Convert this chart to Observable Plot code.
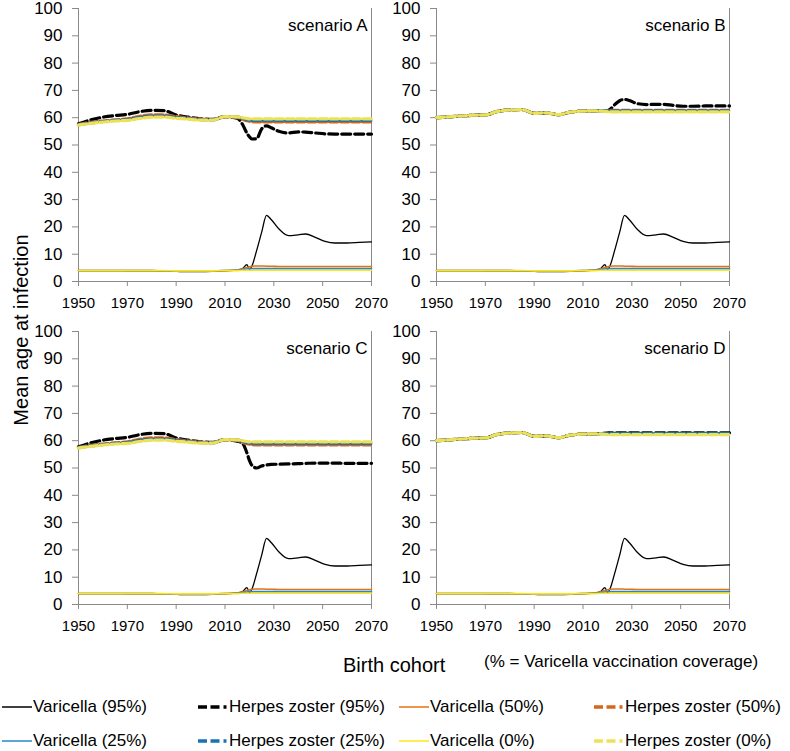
<!DOCTYPE html>
<html><head><meta charset="utf-8">
<script src="https://cdn.jsdelivr.net/npm/d3@7"></script>
<script src="https://cdn.jsdelivr.net/npm/@observablehq/plot@0.6"></script>
<style>
body{margin:0;background:#fff;}
#wrap{position:relative;width:790px;height:751px;font-family:"Liberation Sans",Arial,sans-serif;color:#000;overflow:hidden;background:#fff;}
.abs{position:absolute;white-space:nowrap;}
</style></head><body><div id="wrap"></div>
<script>
// ---------- data ----------
const years = [1950,1955,1960,1965,1970,1975,1980,1985,1990,1995,2000,2005,2010,2015,2017,2019,2020,2021,2023,2025,2027,2029,2032,2036,2040,2043,2047,2051,2055,2060,2065,2070];

const scenarioLabels = ["scenario A", "scenario B", "scenario C", "scenario D"];
const seriesNames = ["Varicella (95%)", "Herpes zoster (95%)", "Varicella (50%)", "Herpes zoster (50%)",
                     "Varicella (25%)", "Herpes zoster (25%)", "Varicella (0%)", "Herpes zoster (0%)"];
const xTicks = [1950, 1970, 1990, 2010, 2030, 2050, 2070];
const yTicks = [0, 10, 20, 30, 40, 50, 60, 70, 80, 90, 100];
const xTitle = "Birth cohort";
const yTitle = "Mean age at infection";
const note = "(% = Varicella vaccination coverage)";

// Varicella (same in all scenarios)
const var95 = [4.0,4.0,4.0,4.0,3.9,3.9,3.9,3.8,3.7,3.6,3.6,3.7,3.9,4.2,4.6,6.2,4.4,5.6,11.5,18.0,24.2,22.6,19.3,16.8,17.1,17.4,16.2,14.7,14.1,14.1,14.3,14.5];
const var50 = [4.0,4.0,4.0,4.0,4.0,4.0,4.0,3.9,3.9,3.8,3.8,3.9,4.0,4.3,4.6,5.1,5.4,5.6,5.7,5.7,5.6,5.6,5.5,5.5,5.5,5.5,5.5,5.5,5.5,5.5,5.5,5.5];
const var25 = [4.0,4.0,4.0,4.0,4.0,4.0,4.0,3.9,3.9,3.8,3.8,3.9,4.0,4.2,4.4,4.6,4.7,4.7,4.7,4.7,4.7,4.7,4.7,4.7,4.7,4.7,4.7,4.7,4.7,4.7,4.7,4.7];
const var0  = [4.0,4.0,4.0,4.0,4.0,4.0,4.0,4.0,3.9,3.9,3.9,3.9,4.0,4.0,4.1,4.1,4.1,4.1,4.1,4.1,4.1,4.1,4.1,4.1,4.1,4.1,4.1,4.1,4.1,4.1,4.1,4.1];

// Herpes zoster, scenario A
const hzA95 = [57.8,59.2,60.2,60.8,61.2,62.2,62.7,62.6,61.0,60.2,59.6,59.4,60.4,59.8,57.8,54.3,53.0,52.2,52.3,55.9,57.0,56.3,55.0,54.4,54.8,54.7,54.4,54.1,54.0,54.0,54.0,54.0];
const hzA50 = [57.5,58.3,58.8,59.2,59.6,60.5,61.0,61.0,60.4,59.9,59.5,59.3,60.3,60.1,59.5,58.9,58.7,58.6,58.5,58.5,58.5,58.5,58.5,58.5,58.5,58.5,58.5,58.5,58.5,58.5,58.5,58.5];
const hzA25 = [57.4,58.1,58.6,59.0,59.3,60.1,60.6,60.6,60.1,59.7,59.3,59.2,60.4,60.3,59.8,59.3,59.1,59.0,59.0,59.0,59.0,59.0,59.0,59.0,59.0,59.0,59.0,59.0,59.0,59.0,59.0,59.0];
const hzA0  = [57.3,57.9,58.4,58.8,59.0,59.7,60.2,60.2,59.8,59.5,59.1,59.1,60.4,60.3,60.0,59.7,59.6,59.6,59.6,59.6,59.6,59.6,59.6,59.6,59.6,59.6,59.6,59.6,59.6,59.6,59.6,59.6];
// Herpes zoster, scenario C (95%)
const hzC95 = [57.8,59.2,60.2,60.8,61.2,62.2,62.7,62.6,61.0,60.2,59.6,59.4,60.4,59.8,59.2,55.5,52.8,51.0,50.0,50.7,51.1,51.3,51.4,51.5,51.6,51.7,51.8,51.8,51.8,51.7,51.7,51.7];
// Herpes zoster, scenario B
const hzB95 = [60.0,60.3,60.6,60.9,61.0,62.3,62.8,63.0,61.6,61.8,61.1,62.1,62.4,62.5,62.6,62.6,62.6,63.0,64.8,66.2,66.7,66.3,65.2,64.8,64.9,64.9,64.5,64.2,64.2,64.3,64.3,64.3];
const hzB50 = [60.0,60.3,60.6,60.9,61.0,62.3,62.8,63.0,61.6,61.8,61.1,62.1,62.4,62.5,62.6,62.6,62.6,62.7,62.7,62.7,62.7,62.7,62.7,62.7,62.7,62.7,62.7,62.7,62.7,62.7,62.7,62.7];
const hzB25 = [60.0,60.3,60.6,60.9,61.0,62.3,62.8,63.0,61.6,61.8,61.1,62.1,62.4,62.5,62.6,62.6,62.5,62.5,62.5,62.5,62.5,62.5,62.5,62.5,62.5,62.5,62.5,62.5,62.5,62.5,62.5,62.5];
const hzB0  = [60.0,60.3,60.6,60.9,61.0,62.3,62.8,63.0,61.6,61.8,61.1,62.1,62.4,62.5,62.5,62.3,62.2,62.1,62.1,62.1,62.1,62.1,62.1,62.1,62.1,62.1,62.1,62.1,62.1,62.1,62.1,62.1];
// Herpes zoster, scenario D
const hzD95 = [60.0,60.3,60.6,60.9,61.0,62.3,62.8,63.0,61.6,61.8,61.1,62.1,62.4,62.5,62.6,62.7,62.8,62.9,62.9,62.9,62.9,62.9,62.9,62.9,62.9,62.9,62.9,62.9,62.9,62.9,62.9,62.9];
const hzD50 = [60.0,60.3,60.6,60.9,61.0,62.3,62.8,63.0,61.6,61.8,61.1,62.1,62.4,62.5,62.6,62.6,62.5,62.5,62.5,62.5,62.5,62.5,62.5,62.5,62.5,62.5,62.5,62.5,62.5,62.5,62.5,62.5];
const hzD25 = [60.0,60.3,60.6,60.9,61.0,62.3,62.8,63.0,61.6,61.8,61.1,62.1,62.4,62.5,62.6,62.7,62.7,62.7,62.7,62.7,62.7,62.7,62.7,62.7,62.7,62.7,62.7,62.7,62.7,62.7,62.7,62.7];
const hzD0  = [60.0,60.3,60.6,60.9,61.0,62.3,62.8,63.0,61.6,61.8,61.1,62.1,62.4,62.5,62.5,62.3,62.2,62.2,62.2,62.2,62.2,62.2,62.2,62.2,62.2,62.2,62.2,62.2,62.2,62.2,62.2,62.2];

const panelSeries = [
  [var95, hzA95, var50, hzA50, var25, hzA25, var0, hzA0],
  [var95, hzB95, var50, hzB50, var25, hzB25, var0, hzB0],
  [var95, hzC95, var50, hzA50, var25, hzA25, var0, hzA0],
  [var95, hzD95, var50, hzD50, var25, hzD25, var0, hzD0]
];

// ---------- styles ----------
const styles = [
  {color: "#000000", w: 1.3, dash: null},
  {color: "#000000", w: 3.2, dash: "9,4"},
  {color: "#E8700F", w: 1.6, dash: null},
  {color: "#D9641C", w: 3.2, dash: "8,3"},
  {color: "#2388D0", w: 1.6, dash: null},
  {color: "#1A72B2", w: 3.2, dash: "8,3"},
  {color: "#FFE41A", w: 1.6, dash: null},
  {color: "#EDE255", w: 3.2, dash: "8,3"}
];
const panelPos = [[0, 0], [358, 0], [0, 323], [358, 323]];
const wrap = document.getElementById("wrap");

function addPanel(k) {
  const marks = [
    Plot.ruleX([1950, 2070], {stroke: "#8a8a8a", strokeWidth: 1}),
    Plot.ruleY([0], {stroke: "#8a8a8a", strokeWidth: 1}),
    Plot.axisY({ticks: yTicks, tickSize: 6, tickPadding: 10, stroke: "#8a8a8a", fill: "#000", fontSize: 17, label: null}),
    Plot.axisX({ticks: xTicks, tickSize: 5, tickPadding: 11, tickFormat: d => String(d), stroke: "#8a8a8a", fill: "#000",
                fontSize: 15, fontFamily: "'Liberation Sans Narrow','Arial Narrow','Liberation Sans',Arial,sans-serif", label: null})
  ];
  panelSeries[k].forEach((vals, i) => {
    const st = styles[i];
    marks.push(Plot.line(years.map((yr, j) => ({yr, v: vals[j]})), {
      x: "yr", y: "v", stroke: st.color, strokeWidth: st.w,
      strokeDasharray: st.dash || undefined, curve: "monotone-x"
    }));
  });
  marks.push(Plot.text([scenarioLabels[k]], {frameAnchor: "top-right", textAnchor: "end", lineAnchor: "top", dx: -4, dy: 10, fontSize: 17, fill: "#000"}));
  const svg = Plot.plot({
    width: 395, height: 310,
    marginLeft: 78, marginRight: 24, marginTop: 8, marginBottom: 29,
    x: {domain: [1950, 2070], label: null},
    y: {domain: [0, 100], label: null},
    style: {fontFamily: "'Liberation Sans',Arial,sans-serif", fontSize: "17px", color: "#000", background: "transparent", overflow: "visible"},
    marks
  });
  svg.style.position = "absolute";
  svg.style.left = panelPos[k][0] + "px";
  svg.style.top = panelPos[k][1] + "px";
  wrap.appendChild(svg);
}
[0, 1, 2, 3].forEach(addPanel);

// axis titles
const yt = document.createElement("div");
yt.className = "abs";
yt.textContent = yTitle;
Object.assign(yt.style, {left: "-129px", top: "318px", width: "300px", textAlign: "center", fontSize: "20px", lineHeight: "24px", transform: "rotate(-90deg)"});
wrap.appendChild(yt);

const xt = document.createElement("div");
xt.className = "abs";
xt.textContent = xTitle;
Object.assign(xt.style, {left: "343px", top: "653px", fontSize: "20px", lineHeight: "24px"});
wrap.appendChild(xt);

const nt = document.createElement("div");
nt.className = "abs";
nt.textContent = note;
Object.assign(nt.style, {left: "484px", top: "652px", fontSize: "17px", lineHeight: "20px"});
wrap.appendChild(nt);

// legend
const colLeft = [2, 198, 399, 594];
const rowMid = [707, 741];
seriesNames.forEach((name, i) => {
  const row = Math.floor(i / 4), col = i % 4;
  const st = styles[i];
  const item = document.createElement("div");
  item.className = "abs";
  Object.assign(item.style, {left: colLeft[col] + "px", top: (rowMid[row] - 11) + "px", height: "22px", display: "flex", alignItems: "center"});
  const isDash = !!st.dash;
  const sw = `<svg width="30" height="8" style="display:block"><line x1="0" y1="4" x2="30" y2="4" stroke="${st.color}" stroke-width="${isDash ? 3.5 : 1.5}" ${isDash ? 'stroke-dasharray="9,3.5,9,4,3"' : ''}/></svg>`;
  item.innerHTML = sw + `<span style="font-size:17px;margin-left:1px;line-height:22px">${name}</span>`;
  wrap.appendChild(item);
});
</script></body></html>
